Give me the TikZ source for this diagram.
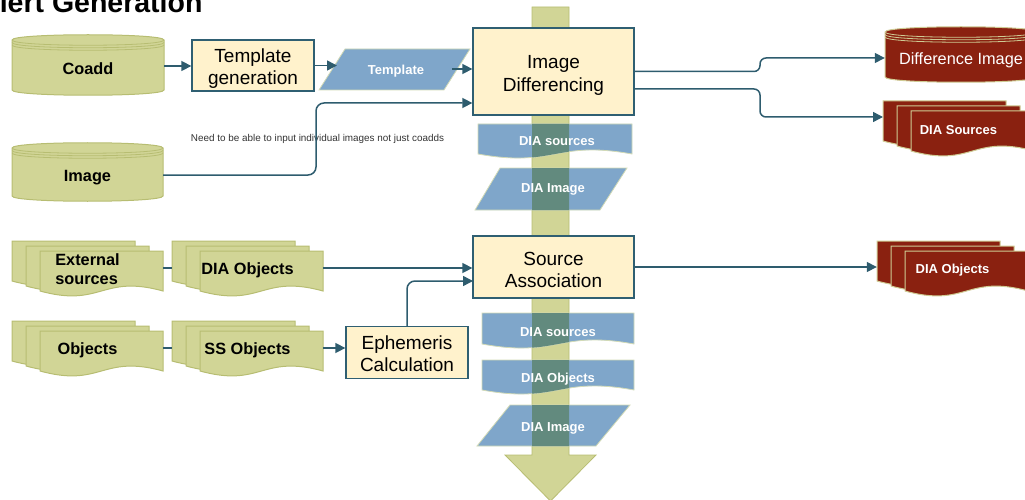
\documentclass[tikz,border=0pt]{standalone}
\usepackage{fontspec}
\setmainfont{Liberation Sans}
\usetikzlibrary{arrows.meta}
\definecolor{olivefill}{HTML}{D1D596}
\definecolor{olivedraw}{HTML}{B7BD72}
\definecolor{boxfill}{HTML}{FFF2CC}
\definecolor{boxdraw}{HTML}{2F5F72}
\definecolor{conncol}{HTML}{2E5C6E}
\definecolor{bluefill}{HTML}{7FA6CA}
\definecolor{blueedge}{HTML}{D2DAB6}
\definecolor{overlapcol}{HTML}{628A7E}
\definecolor{redfill}{HTML}{8A2110}
\definecolor{rededge}{HTML}{CFCB94}
\definecolor{notecol}{HTML}{333333}

\newcommand{\mycyl}[6]{%
  \filldraw[fill=#5, draw=#6, line width=1pt] (#1,#2) -- (#1,#4) .. controls (#1,#4+7) and (#3,#4+7) .. (#3,#4) -- (#3,#2) .. controls (#3,#2-7) and (#1,#2-7) .. (#1,#2) -- cycle;
  \foreach \dd in {0,2.5,5} {\draw[draw=#6, line width=0.8pt] (#1,#2+\dd) .. controls (#1,#2+\dd+7) and (#3,#2+\dd+7) .. (#3,#2+\dd);}
}
\newcommand{\mydoc}[6]{%
  \path[#6] (#1,#2) -- (#3,#2) -- (#3,#4) .. controls ({(#1+#3)/2},#4-#5) and ({(#1+#3)/2},#4+#5) .. (#1,#4) -- cycle;
}
\newcommand{\mymdoc}[3]{%
  \mydoc{#1}{#2}{#1+123}{#2+40}{17}{#3}
  \mydoc{#1+14}{#2+5}{#1+137}{#2+45}{17}{#3}
  \mydoc{#1+28}{#2+10}{#1+151}{#2+50}{17}{#3}
}
\newcommand{\mypar}[7]{%
  \path[#7] (#1,#3) -- (#2,#3) -- (#4,#6) -- (#5,#6) -- cycle;
}
% lower a one-line text without changing its box
\newcommand{\dn}[2]{\raisebox{-#1}[\height][\depth]{#2}}

\tikzset{
  shaftst/.style={fill=olivefill, draw=olivedraw, line width=0.8pt},
  bluest/.style={fill=bluefill, draw=blueedge, line width=0.8pt},
  ovst/.style={fill=overlapcol},
  greenst/.style={fill=olivefill, draw=olivedraw, line width=1pt},
  redst/.style={fill=redfill, draw=rededge, line width=1pt},
  boxst/.style={draw=boxdraw, fill=boxfill, line width=1.3pt, inner sep=0pt,
    font=\fontsize{19}{22.5}\selectfont, align=center},
  gtxt/.style={font=\bfseries\fontsize{16.3}{19}\selectfont, inner sep=0pt, text=black},
  wtxt/.style={font=\bfseries\fontsize{13}{15}\selectfont, inner sep=0pt, text=white},
  conn/.style={draw=conncol, line width=1.5pt, -{Triangle[length=10pt,width=10pt]}},
  plainline/.style={draw=conncol, line width=1.5pt},
}

\begin{document}
\begin{tikzpicture}[x=1pt,y=-1pt]
\useasboundingbox (0,0) rectangle (1025,500);
\clip (0,0) rectangle (1025,500);

% title (cropped at the top-left edge, as in the reference)
\node[anchor=base west, inner sep=0pt, font=\bfseries\fontsize{28.5}{30}\selectfont] (title) at (-21,13) {Alert Generation};

% big vertical arrow
\filldraw[shaftst] (532,7) -- (569,7) -- (569,455) -- (596,455) -- (550.5,501) -- (505,455) -- (532,455) -- cycle;

% blue data shapes
\mypar{345}{470}{49}{444}{319}{90}{bluest}
\mydoc{478}{124}{632}{154}{14}{bluest}
\mypar{500}{627}{168}{600}{475}{210}{bluest}
\mydoc{482}{313}{634}{344}{14}{bluest}
\mydoc{482}{360}{634}{390}{14}{bluest}
\mypar{510}{630}{405}{596}{477}{446}{bluest}
\begin{scope}
  \clip (532,7) rectangle (569,455);
  \mydoc{478}{124}{632}{154}{14}{ovst}
  \mypar{500}{627}{168}{600}{475}{210}{ovst}
  \mydoc{482}{313}{634}{344}{14}{ovst}
  \mydoc{482}{360}{634}{390}{14}{ovst}
  \mypar{510}{630}{405}{596}{477}{446}{ovst}
\end{scope}

% cylinders
\mycyl{12}{40}{164}{90}{olivefill}{olivedraw}
\mycyl{12}{148}{163}{196}{olivefill}{olivedraw}
\mycyl{885}{32}{1037}{77}{redfill}{rededge}

% multi documents
\mymdoc{12}{241}{greenst}
\mymdoc{172}{241}{greenst}
\mymdoc{12}{321}{greenst}
\mymdoc{172}{321}{greenst}
\mymdoc{883}{101}{redst}
\mymdoc{877}{241}{redst}

% process boxes
\node[boxst, minimum width=122pt, minimum height=51pt] (tgen) at (253,65.5) {\rule{0pt}{20pt}Template\\generation};
\node[boxst, minimum width=161pt, minimum height=87pt] (imgdiff) at (553.5,71.5) {\rule{0pt}{21pt}Image\\Differencing};
\node[boxst, minimum width=161pt, minimum height=62pt] (sa) at (553.5,267) {\rule{0pt}{19pt}Source\\Association};
\node[boxst, minimum width=122pt, minimum height=52pt] (eph) at (407,352.5) {\rule{0pt}{16pt}Ephemeris\\Calculation};

% cylinder / document labels
\node[gtxt, minimum width=152pt, minimum height=50pt] (coadd) at (88,66) {\dn{2.5pt}{Coadd}};
\node[gtxt, minimum width=151pt, minimum height=50pt] (image) at (87.5,175) {\dn{3pt}{Image}};
\node[font=\fontsize{16.3}{19}\selectfont, text=white, inner sep=0pt, minimum width=152pt, minimum height=48pt] (diffimg) at (961,58) {\dn{2pt}{Difference Image}};
\node[gtxt, align=left, minimum width=151pt, minimum height=54pt] (ext) at (87.5,268) {\rule{0pt}{14pt}External\\sources};
\node[gtxt, minimum width=151pt, minimum height=54pt] (diaobjG) at (247.5,268) {\dn{2.5pt}{DIA Objects}};
\node[gtxt, minimum width=151pt, minimum height=54pt] (objs) at (87.5,348) {\dn{2.5pt}{Objects}};
\node[gtxt, minimum width=151pt, minimum height=54pt] (ssobj) at (247.5,348) {\dn{2.5pt}{SS Objects}};
\node[wtxt, minimum width=151pt, minimum height=54pt] (diasrcR) at (958.5,128) {\dn{2pt}{DIA Sources}};
\node[wtxt, minimum width=151pt, minimum height=54pt] (diaobjR) at (952.5,268) {\dn{2.5pt}{DIA Objects}};

% blue labels
\node[wtxt] (tpl) at (396,70) {\dn{1.5pt}{Template}};
\node[wtxt] (dsrc1) at (557,140) {\dn{1.5pt}{DIA sources}};
\node[wtxt] (dimg1) at (553,188) {\dn{1.5pt}{DIA Image}};
\node[wtxt] (dsrc2) at (558,331) {\dn{1.5pt}{DIA sources}};
\node[wtxt] (dobj2) at (558,378) {\dn{1.5pt}{DIA Objects}};
\node[wtxt] (dimg2) at (553,427) {\dn{1.5pt}{DIA Image}};

% annotation
\node[font=\fontsize{9.9}{12}\selectfont, text=notecol, inner sep=0pt] (note) at (317.5,138.5) {Need to be able to input individual images not just coadds};

% helper coordinates
\coordinate (tplL) at (337,65.5);
\coordinate (tplR) at (452,69);
\coordinate (ibend) at (316,103);
\coordinate (j1) at (760,0);
\coordinate (idout2) at (634,89);
\coordinate (dsin) at (883,117);
\coordinate (sain2) at (473,281);

% connectors
\draw[conn] (coadd.east) -- (coadd.east -| tgen.west);
\draw[conn] (tgen.east) -- (tgen.east -| tplL);
\draw[conn] (tplR) -- (tplR -| imgdiff.west);
\draw[conn, rounded corners=8pt] (image.east) -| (ibend) -- (ibend -| imgdiff.west);
\draw[conn, rounded corners=6pt] (imgdiff.east) -- (imgdiff.east -| j1) -- (j1 |- diffimg.west) -- (diffimg.west);
\draw[conn, rounded corners=6pt] (idout2) -- (idout2 -| j1) -- (j1 |- dsin) -- (dsin);
\draw[plainline] (ext.east) -- (ext.east -| diaobjG.west);
\draw[plainline] (objs.east) -- (objs.east -| ssobj.west);
\draw[conn] (diaobjG.east) -- (diaobjG.east -| sa.west);
\draw[conn] (ssobj.east) -- (ssobj.east -| eph.west);
\draw[conn, rounded corners=8pt] (eph.north) |- (sain2);
\draw[conn] (sa.east) -- (sa.east -| diaobjR.west);
\end{tikzpicture}
\end{document}
